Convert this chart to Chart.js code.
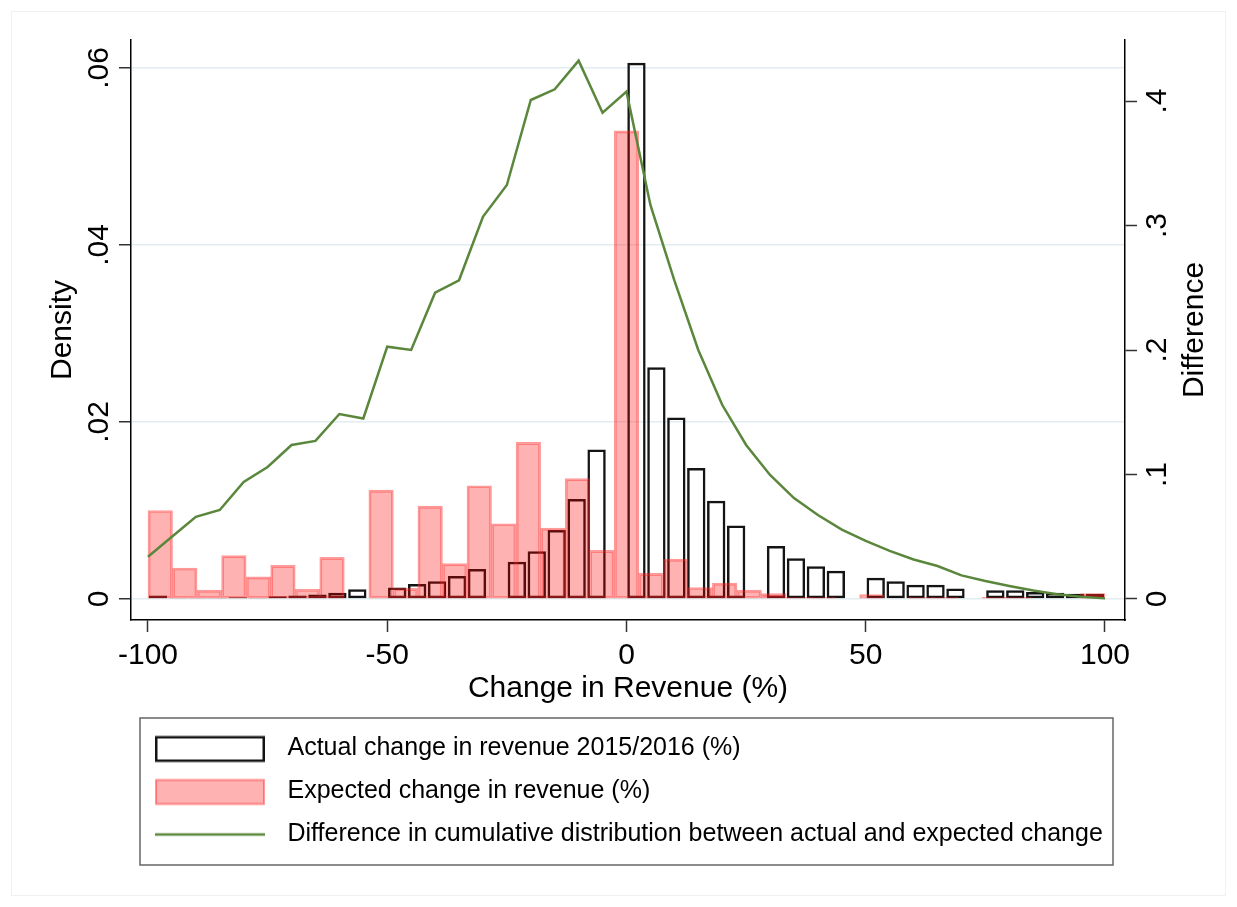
<!DOCTYPE html>
<html><head><meta charset="utf-8">
<script src="https://cdn.jsdelivr.net/npm/chart.js@4/dist/chart.umd.min.js"></script>
<style>html,body{margin:0;padding:0;background:#fff}canvas{display:block}</style>
</head><body>
<canvas id="c" width="1237" height="907"></canvas>
<script>
// ---- data ----
const seriesLabels = [
  'Actual change in revenue 2015/2016 (%)',
  'Expected change in revenue (%)',
  'Difference in cumulative distribution between actual and expected change'
];
// histogram ranges / bin counts
const histMin = -100, histMax = 100;
const actualBinCount = 48;
const expectedBinCount = 39;
// density per bin (actual change, 48 bins from -100 to 100)
const actualDensity = [
  0.0004, 0.0001, 0.0001, 0.0001, 0.0002, 0.0001, 0.0003, 0.0004, 0.0005, 0.0007,
  0.0011, 0, 0.0013, 0.0017, 0.0020, 0.0026, 0.0034, 0, 0.0042, 0.0054,
  0.0078, 0.0113, 0.0169, 0, 0.0606, 0.0262, 0.0205, 0.0148, 0.0111, 0.0083,
  0, 0.0060, 0.0046, 0.0037, 0.0032, 0, 0.0024, 0.0020, 0.0016, 0.0016,
  0.0012, 0, 0.0010, 0.0010, 0.0008, 0.0007, 0.0006, 0.0006
];
// density per bin (expected change, 39 bins from -100 to 100)
const expectedDensity = [
  0.0100, 0.0035, 0.0010, 0.0049, 0.0025, 0.0038, 0.0011, 0.0047, 0, 0.0123,
  0.0012, 0.0105, 0.0040, 0.0128, 0.0085, 0.0177, 0.0080, 0.0136, 0.0055, 0.0529,
  0.0029, 0.0045, 0.0013, 0.0018, 0.0010, 0.0006, 0.0002, 0.0002, 0, 0.0005,
  0, 0.0002, 0.0002, 0, 0.0002, 0.0002, 0, 0, 0.0006
];
// difference in cumulative distribution
const diffX = [-100,-95,-90,-85,-80,-75,-70,-65,-60,-55,-50,-45,-40,-35,-30,-25,-20,-15,-10,-5,
  0,5,10,15,20,25,30,35,40,45,50,55,60,65,70,75,80,85,90,95,100];
const diffY = [0.034,0.050,0.066,0.0715,0.094,0.106,0.1237,0.127,0.1486,0.145,
  0.2027,0.200,0.246,0.256,0.307,0.3325,0.4008,0.4094,0.4324,0.3906,
  0.4075,0.3165,0.256,0.200,0.156,0.1237,0.0996,0.0811,0.0675,0.0558,
  0.0466,0.0386,0.0317,0.0265,0.019,0.0145,0.0105,0.0068,0.0038,0.0018,0.0005];
// ticks
const xTicks = [-100, -50, 0, 50, 100];
const xTickLabels = ['-100', '-50', '0', '50', '100'];
const densityTicks = [0, 0.02, 0.04, 0.06];
const densityTickLabels = ['0', '.02', '.04', '.06'];
const diffTicks = [0, 0.1, 0.2, 0.3, 0.4];
const diffTickLabels = ['0', '.1', '.2', '.3', '.4'];
const xTitle = 'Change in Revenue (%)';
const yTitle = 'Density';
const y2Title = 'Difference';

// ---- styling ----
const FONT = "'Liberation Sans', Arial, sans-serif";
const GREEN = '#5a873c';
const RED_FILL = 'rgba(255,0,0,0.30)';
const RED_LINE = 'rgba(255,30,30,0.45)';
const BLACK = '#141414';
Chart.defaults.font.family = FONT;
Chart.defaults.color = '#000';

function binCenters(n) {
  const w = (histMax - histMin) / n;
  return Array.from({length: n}, (_, i) => histMin + (i + 0.5) * w);
}
const actualCenters = binCenters(actualBinCount);
const expectedCenters = binCenters(expectedBinCount);

const X_MIN = -103.55, X_MAX = 104.18;
const fixTicks = vals => s => { s.ticks = vals.map(v => ({value: v})); };
const labelFor = (vals, labels) => v => {
  const i = vals.findIndex(t => Math.abs(t - v) < 1e-9);
  return i >= 0 ? labels[i] : '';
};

function makeSwatch(draw) {
  const c = document.createElement('canvas');
  c.width = 126; c.height = 30;
  draw(c.getContext('2d'));
  return c;
}
const swatches = [
  makeSwatch(g => { g.fillStyle = '#fff'; g.fillRect(6, 2.5, 110, 26);
    g.strokeStyle = BLACK; g.lineWidth = 2.5; g.strokeRect(7.25, 3.75, 107.5, 23.5); }),
  makeSwatch(g => { g.fillStyle = RED_FILL; g.fillRect(7, 3.5, 108, 24);
    g.strokeStyle = RED_LINE; g.lineWidth = 2; g.strokeRect(7, 3.5, 108, 24); }),
  makeSwatch(g => { g.strokeStyle = GREEN; g.lineWidth = 2.5; g.beginPath();
    g.moveTo(6, 15); g.lineTo(116, 15); g.stroke(); })
];

const decor = {
  id: 'decor',
  beforeDraw(chart) {
    const ctx = chart.ctx;
    ctx.save();
    ctx.fillStyle = '#fff';
    ctx.fillRect(0, 0, chart.width, chart.height);
    ctx.strokeStyle = '#f0f0f0';
    ctx.lineWidth = 1;
    ctx.strokeRect(11.5, 11.5, chart.width - 23, chart.height - 23);
    ctx.restore();
  },
  afterDraw(chart) {
    const ctx = chart.ctx;
    const s = chart.scales.y2;
    ctx.save();
    ctx.font = '30px ' + FONT;
    ctx.fillStyle = '#000';
    ctx.textAlign = 'center';
    ctx.textBaseline = 'middle';
    ctx.translate(s.right - 42, (s.top + s.bottom) / 2);
    ctx.rotate(-Math.PI / 2);
    ctx.fillText(y2Title, 0, 0);
    ctx.restore();
    const L = chart.legend;
    ctx.save();
    ctx.strokeStyle = '#666';
    ctx.lineWidth = 1.5;
    ctx.strokeRect(L.left + 9, L.top, L.right - L.left - 21, 147);
    ctx.restore();
  }
};

const hiddenX = {
  type: 'linear', display: false, min: X_MIN, max: X_MAX, offset: false,
  grid: {offset: false}, afterBuildTicks: fixTicks(xTicks)
};

new Chart(document.getElementById('c'), {
  type: 'bar',
  data: {
    datasets: [
      {
        type: 'line', label: seriesLabels[2], xAxisID: 'x', yAxisID: 'y2', order: 0,
        data: diffX.map((x, i) => ({x, y: diffY[i]})),
        borderColor: GREEN, borderWidth: 2.5, pointRadius: 0, tension: 0, fill: false
      },
      {
        type: 'bar', label: seriesLabels[1], xAxisID: 'xr', yAxisID: 'y', order: 1,
        data: expectedCenters.map((x, i) => ({x, y: expectedDensity[i]})),
        backgroundColor: RED_FILL, borderColor: RED_LINE, borderWidth: 2,
        borderSkipped: false, barPercentage: 1, categoryPercentage: 1, grouped: false
      },
      {
        type: 'bar', label: seriesLabels[0], xAxisID: 'xb', yAxisID: 'y', order: 2,
        data: actualCenters.map((x, i) => ({x, y: actualDensity[i]})),
        backgroundColor: 'rgba(0,0,0,0)', borderColor: BLACK, borderWidth: 2.5,
        borderSkipped: false, barPercentage: 0.92, categoryPercentage: 1, grouped: false
      }
    ]
  },
  options: {
    responsive: false,
    animation: false,
    events: [],
    layout: {padding: {top: 40, bottom: 50, left: 0, right: 0}},
    scales: {
      x: {
        type: 'linear', position: 'bottom', min: X_MIN, max: X_MAX, offset: false,
        afterBuildTicks: fixTicks(xTicks),
        afterFit: s => { s.height = 98; },
        ticks: {font: {size: 30}, padding: 6, maxRotation: 0, autoSkip: false,
          callback: labelFor(xTicks, xTickLabels)},
        grid: {offset: false, drawOnChartArea: false, drawTicks: true, tickLength: 12,
          tickColor: '#333', tickWidth: 1.5},
        border: {display: true, color: '#000', width: 1.5},
        title: {display: true, text: xTitle, font: {size: 30}, color: '#000',
          padding: {top: 0, bottom: 11}}
      },
      xb: Object.assign({}, hiddenX, {afterBuildTicks: fixTicks(xTicks)}),
      xr: Object.assign({}, hiddenX, {afterBuildTicks: fixTicks(xTicks)}),
      y: {
        type: 'linear', position: 'left', min: -0.002373, max: 0.063164,
        afterBuildTicks: fixTicks(densityTicks),
        afterFit: s => { s.width = 131; },
        ticks: {font: {size: 30}, minRotation: 90, maxRotation: 90, crossAlign: 'center',
          padding: -2, autoSkip: false, callback: labelFor(densityTicks, densityTickLabels)},
        grid: {color: '#e2edf0', lineWidth: 1.5, drawTicks: true, tickLength: 12,
          tickColor: '#333', tickWidth: 1.5},
        border: {display: true, color: '#000', width: 1.5},
        title: {display: true, text: yTitle, font: {size: 30}, color: '#000',
          padding: {top: 45, bottom: 0}}
      },
      y2: {
        type: 'linear', position: 'right', min: -0.01687, max: 0.449,
        afterBuildTicks: fixTicks(diffTicks),
        afterFit: s => { s.width = 112; },
        ticks: {font: {size: 30}, minRotation: 90, maxRotation: 90, crossAlign: 'center',
          padding: 8, autoSkip: false, callback: labelFor(diffTicks, diffTickLabels)},
        grid: {drawOnChartArea: false, drawTicks: true, tickLength: 12,
          tickColor: '#333', tickWidth: 1.5},
        border: {display: true, color: '#000', width: 1.5},
        title: {display: false, text: y2Title}
      }
    },
    plugins: {
      tooltip: {enabled: false},
      legend: {
        display: true, position: 'bottom', align: 'start', fullSize: false,
        labels: {
          usePointStyle: true, pointStyleWidth: 126, boxHeight: 25,
          font: {size: 25}, color: '#000', padding: 18,
          generateLabels: chart => [2, 1, 0].map((di, k) => ({
            text: chart.data.datasets[di].label,
            pointStyle: swatches[k],
            fillStyle: 'rgba(0,0,0,0)', strokeStyle: 'rgba(0,0,0,0)', lineWidth: 0,
            datasetIndex: di, hidden: false
          }))
        }
      }
    }
  },
  plugins: [decor]
});
</script>
</body></html>
